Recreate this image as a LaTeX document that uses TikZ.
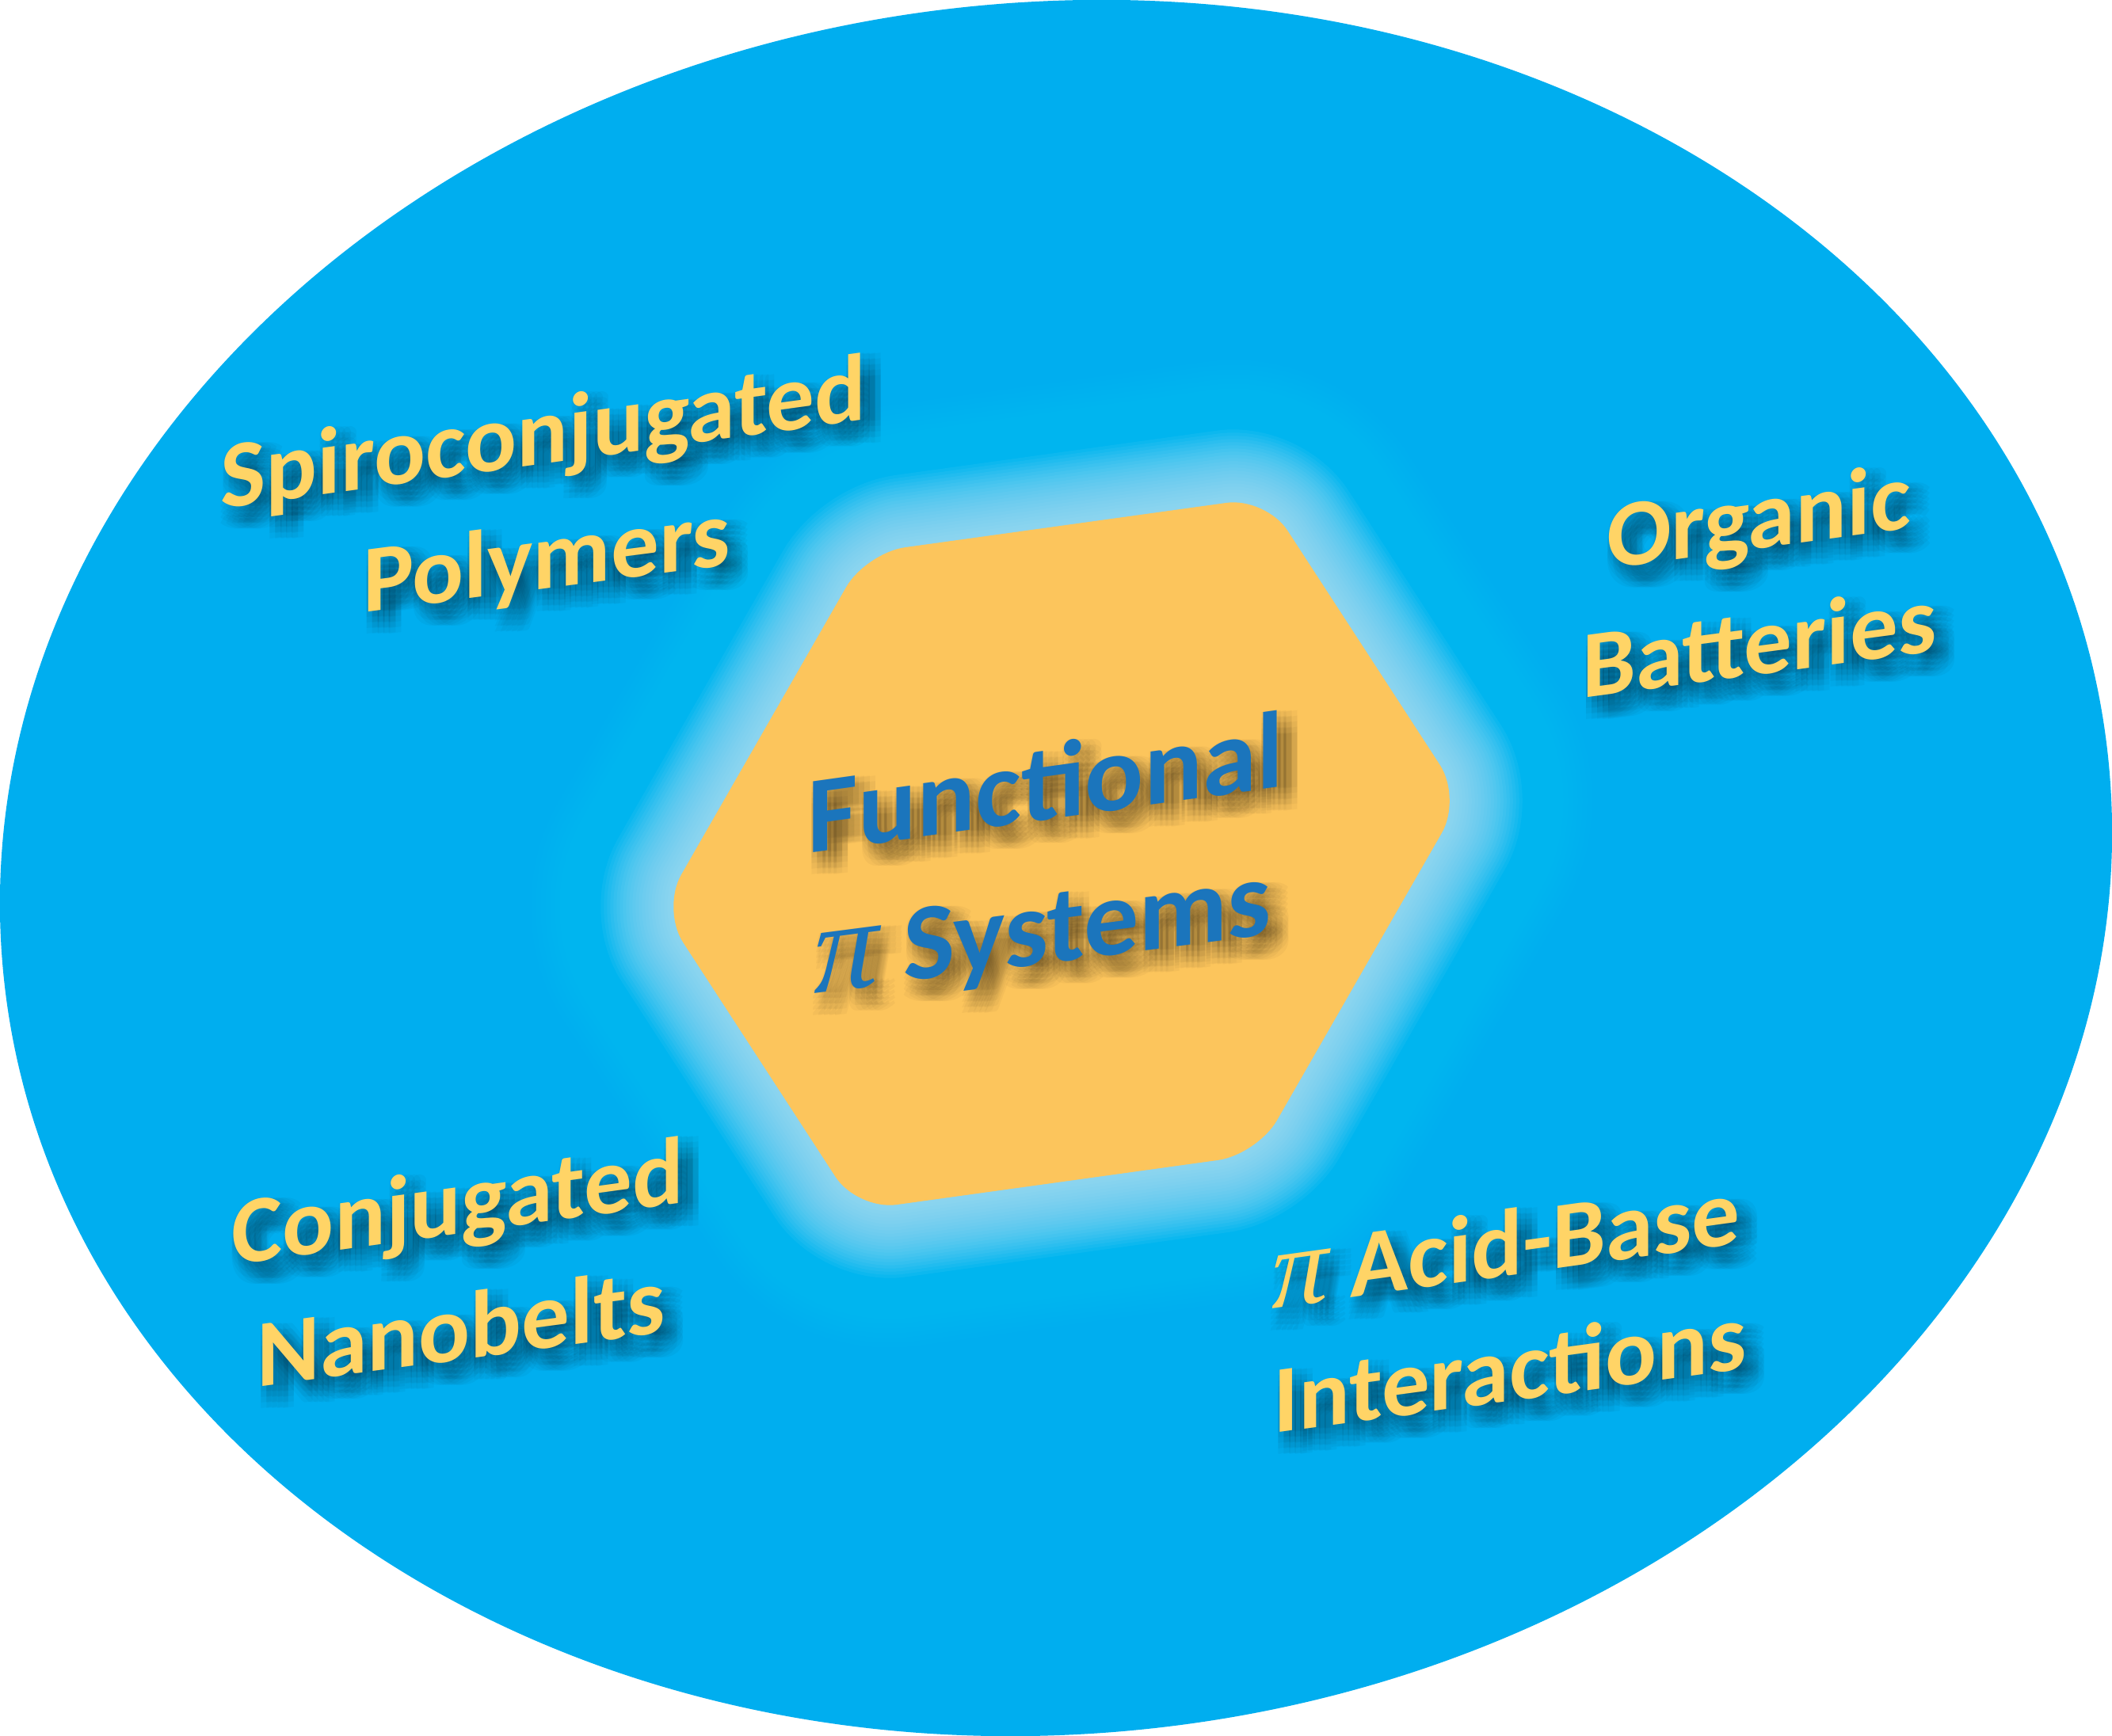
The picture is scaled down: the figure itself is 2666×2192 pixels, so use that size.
\documentclass[tikz,border=0pt]{standalone}
\usepackage{fontspec}
\newfontfamily\carl{Carlito}
\newfontfamily\pifont{Liberation Serif}[Scale=1.18]
\newcommand\mypi{{\pifont\itshape\mdseries π}}
\definecolor{ellblue}{HTML}{00AEEF}
\definecolor{hexfill}{HTML}{FCC55C}
\definecolor{txtyel}{HTML}{FFD466}
\definecolor{txtblue}{HTML}{1B75BC}
\definecolor{glowcyan}{HTML}{00C2F5}
\definecolor{glowlight}{HTML}{B2E2FA}
\tikzset{
  lblsmall/.style={font=\carl\bfseries\fontsize{121}{150}\selectfont, text=txtyel, inner sep=0pt},
  lblbig/.style={font=\carl\bfseries\fontsize{138}{170}\selectfont, text=txtblue, inner sep=0pt},
  shadowtxt/.style={text=black, text opacity=0.032},
  hexround/.style={rounded corners=50, line join=round},
}
\newcommand\slantline[6]{%
  \foreach \dx in {0,7,14,21,28}{\foreach \dy in {0,7,14,21,28}{%
    \node[#5, shadowtxt, shift={(#2+\dx-2,#3+\dy)}, yslant=#4, transform shape, anchor=base] at (0,0) {#6};}}%
  \node[#5, shift={(#2,#3)}, yslant=#4, transform shape, anchor=base] (#1) at (0,0) {#6};%
}
\def\hexpath{(1716,1233) -- (1845,1008) -- (1598,628) -- (1093,698) -- (835,1148) -- (1082,1528) -- (1587,1458) -- cycle}
\begin{document}
\begin{tikzpicture}[x=1pt,y=-1pt]
\useasboundingbox (0,0) rectangle (2666,2192);
\fill[white] (0,0) rectangle (2666,2192);
\fill[ellblue, rotate around={6:(1333,1096)}] (1333,1096) ellipse [x radius=1335.4, y radius=1093.1];
% glow
\foreach \w in {360,348,...,12}{\draw[glowcyan, line width=\w, draw opacity=0.075, hexround] \hexpath;}
\foreach \w in {184,176,...,8}{\draw[glowlight, line width=\w, draw opacity=0.07, hexround] \hexpath;}
\fill[hexfill, hexround] \hexpath;
% labels
\slantline{sp1}{686}{586}{0.1375}{lblsmall}{Spiroconjugated}
\slantline{sp2}{690}{743}{0.13}{lblsmall}{Polymers}
\slantline{ob1}{2220}{693}{0.135}{lblsmall}{Organic}
\slantline{ob2}{2221}{852}{0.133}{lblsmall}{Batteries}
\slantline{cn1}{578}{1558}{0.138}{lblsmall}{Conjugated}
\slantline{cn2}{582}{1717}{0.134}{lblsmall}{Nanobelts}
\slantline{ab1}{1901}{1611}{0.139}{lblsmall}{\mypi{} Acid-Base}
\slantline{ab2}{1906}{1769}{0.136}{lblsmall}{Interactions}
\slantline{fs1}{1320}{1035}{0.14}{lblbig}{Functional}
\slantline{fs2}{1316}{1217}{0.13}{lblbig}{\mypi{} Systems}
\end{tikzpicture}
\end{document}
